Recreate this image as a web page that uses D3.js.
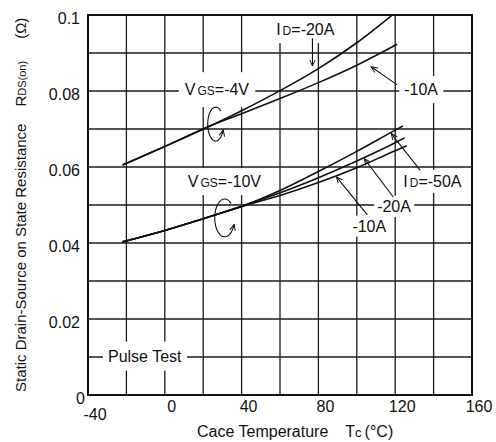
<!DOCTYPE html>
<meta charset="utf-8">
<style>
    body { margin: 0; background: #fff; }
    svg text { font-family: "Liberation Sans", Arial, sans-serif; fill: #111; }
    .grid line { stroke: #1a1a1a; stroke-width: 1.3; }
    .frame { fill: none; stroke: #111; stroke-width: 2; }
    .curve { fill: none; stroke: #111; stroke-width: 1.6; }
    .lead { fill: none; stroke: #111; stroke-width: 1.1; }
</style>
<svg width="496" height="442"></svg>
<script src="https://d3js.org/d3.v7.min.js"></script>
<script>

    // axis ticks
    var xTicks = [-40, 0, 40, 80, 120, 160];
    var yTicks = [0, 0.02, 0.04, 0.06, 0.08, 0.1];
    var yTickLabels = ["0", "0.02", "0.04", "0.06", "0.08", "0.1"];

    // VGS = -4V
    var tc4v20 = [-22, 0, 25, 40, 60, 80, 100, 118];
    var rds4v20 = [0.0605, 0.0654, 0.0711, 0.0748, 0.0801, 0.0859, 0.0927, 0.0998];
    var tc4v10 = [-22, 0, 25, 40, 60, 80, 100, 121];
    var rds4v10 = [0.0605, 0.0654, 0.0711, 0.074, 0.078, 0.0822, 0.0868, 0.0923];

    // VGS = -10V
    var tc10v50 = [-22, 0, 20, 42, 60, 80, 100, 120, 124];
    var rds10v50 = [0.0403, 0.0433, 0.0464, 0.05, 0.0538, 0.0588, 0.0641, 0.0697, 0.0708];
    var tc10v20 = [-22, 0, 20, 42, 60, 80, 100, 120, 125];
    var rds10v20 = [0.0403, 0.0433, 0.0464, 0.05, 0.0532, 0.0572, 0.0616, 0.0664, 0.0677];
    var tc10v10 = [-22, 0, 20, 42, 60, 80, 100, 120, 126];
    var rds10v10 = [0.0403, 0.0433, 0.0464, 0.0499, 0.0525, 0.0559, 0.0598, 0.0643, 0.0656];

    var svg = d3.select("svg"),
        margin = {top: 15, right: 24, bottom: 47, left: 88},
        width = +svg.attr("width"),
        height = +svg.attr("height");

    var x = d3.scaleLinear().domain([-40, 160]).range([margin.left, width - margin.right]);
    var y = d3.scaleLinear().domain([0, 0.1]).range([height - margin.bottom, margin.top]);

    svg.append("defs").append("marker")
        .attr("id", "arr")
        .attr("viewBox", "0 -5 10 10")
        .attr("refX", 9).attr("refY", 0)
        .attr("markerWidth", 7).attr("markerHeight", 7)
        .attr("markerUnits", "userSpaceOnUse")
        .attr("orient", "auto")
        .append("path")
        .attr("d", "M0,-4L9,0L0,4")
        .attr("fill", "none").attr("stroke", "#111").attr("stroke-width", 1.4);

    // grid
    var grid = svg.append("g").attr("class", "grid");
    grid.selectAll(".vx").data(d3.range(-20, 160, 20)).enter().append("line")
        .attr("x1", d => x(d)).attr("x2", d => x(d))
        .attr("y1", y(0)).attr("y2", y(0.1));
    grid.selectAll(".hy").data(d3.range(1, 10).map(d => d / 100)).enter().append("line")
        .attr("x1", x(-40)).attr("x2", x(160))
        .attr("y1", d => y(d)).attr("y2", d => y(d));

    // labels that sit on the grid (white box cuts the grid lines)
    var labels = [
        {parts: [["I", 16], ["D", 12], ["=-20A", 16]], t: 58, r: 0.0947, px: 4, py: 6},
        {parts: [["-10A", 16]], t: 124.7, r: 0.0789, px: 5, py: 6},
        {parts: [["V", 16], ["GS", 12], ["=-4V", 16]], t: 10.4, r: 0.0789, px: 6, py: 10},
        {parts: [["V", 16], ["GS", 12], ["=-10V", 16]], t: 12, r: 0.0547, px: 5, py: 6},
        {parts: [["I", 16], ["D", 12], ["=-50A", 16]], t: 124.2, r: 0.0548, px: 4, py: 4},
        {parts: [["-20A", 16]], t: 110.6, r: 0.0482, px: 3, py: 3},
        {parts: [["-10A", 16]], t: 97.7, r: 0.043, px: 3, py: 3},
        {parts: [["Pulse Test", 16]], t: -29.6, r: 0.0088, px: 5, py: 7}
    ];

    var lab = svg.append("g");
    labels.forEach(function (d) {
        var g = lab.append("g");
        var txt = g.append("text")
            .attr("x", x(d.t)).attr("y", y(d.r));
        d.parts.forEach(function (p, i) {
            txt.append("tspan")
                .attr("dx", i > 0 && p[1] < 16 ? 2 : null)
                .style("font-size", p[1] + "px")
                .text(p[0]);
        });
        var b = txt.node().getBBox();
        g.insert("rect", "text")
            .attr("x", b.x - d.px).attr("y", b.y - d.py + 1)
            .attr("width", b.width + 2 * d.px).attr("height", b.height + 2 * d.py - 2)
            .attr("fill", "#fff");
    });

    // frame
    svg.append("rect").attr("class", "frame")
        .attr("x", x(-40)).attr("y", y(0.1))
        .attr("width", x(160) - x(-40)).attr("height", y(0) - y(0.1));

    // curves
    var line = d3.line()
        .x(d => x(d[0]))
        .y(d => y(d[1]))
        .curve(d3.curveMonotoneX);

    [[tc4v20, rds4v20], [tc4v10, rds4v10],
     [tc10v50, rds10v50], [tc10v20, rds10v20], [tc10v10, rds10v10]].forEach(function (s) {
        svg.append("path").attr("class", "curve")
            .attr("d", line(d3.zip(s[0], s[1])));
    });

    // leader arrows
    var leads = [
        [76.9, 0.0939, 76.9, 0.0866],
        [121, 0.0816, 107.5, 0.0864],
        [133, 0.0592, 117.9, 0.0688],
        [119, 0.0521, 103.9, 0.0622],
        [105.5, 0.0474, 89.4, 0.0574]
    ];
    svg.selectAll(".lead").data(leads).enter().append("line")
        .attr("class", "lead")
        .attr("x1", d => x(d[0])).attr("y1", d => y(d[1]))
        .attr("x2", d => x(d[2])).attr("y2", d => y(d[3]))
        .attr("marker-end", "url(#arr)");

    // circular arrows that group the curves
    var loops = [
        {t: 26.5, r: 0.0713, rx: 8, ry: 17},
        {t: 31.2, r: 0.0466, rx: 10, ry: 19}
    ];
    loops.forEach(function (d) {
        var cx = x(d.t), cy = y(d.r);
        var pts = d3.range(-50, -341, -10).map(function (a) {
            var rad = a * Math.PI / 180;
            return [cx + d.rx * Math.cos(rad), cy + d.ry * Math.sin(rad)];
        });
        svg.append("path").attr("class", "lead")
            .attr("d", d3.line().curve(d3.curveBasis)(pts))
            .attr("marker-end", "url(#arr)");
    });

    // tick labels
    svg.selectAll(".xt").data(xTicks).enter().append("text")
        .attr("x", d => x(d) + 7)
        .attr("y", d => d === -40 ? 420 : 412)
        .attr("text-anchor", "middle")
        .style("font-size", "16px")
        .text(d => d);

    svg.selectAll(".yt").data(yTicks).enter().append("text")
        .attr("x", (d, i) => i === 0 ? 85 : 80)
        .attr("y", d => y(d) + 3)
        .attr("dy", "0.35em")
        .attr("text-anchor", "end")
        .style("font-size", "16px")
        .text((d, i) => yTickLabels[i]);

    // axis titles
    var xt = svg.append("text")
        .attr("x", 197).attr("y", 437)
        .style("font-size", "16px");
    xt.append("tspan").text("Cace Temperature");
    xt.append("tspan").attr("dx", 17).text("T");
    xt.append("tspan").style("font-size", "13px").text("c");
    xt.append("tspan").attr("dx", 3).text("(°C)");

    var yt = svg.append("text")
        .attr("transform", "translate(26,392) rotate(-90)")
        .style("font-size", "15px");
    yt.append("tspan").text("Static Drain-Source on State Resistance");
    yt.append("tspan").attr("dx", 17).text("R");
    yt.append("tspan").style("font-size", "11px").text("DS(on)");
    yt.append("tspan").attr("dx", 22).text("(Ω)");

</script>
